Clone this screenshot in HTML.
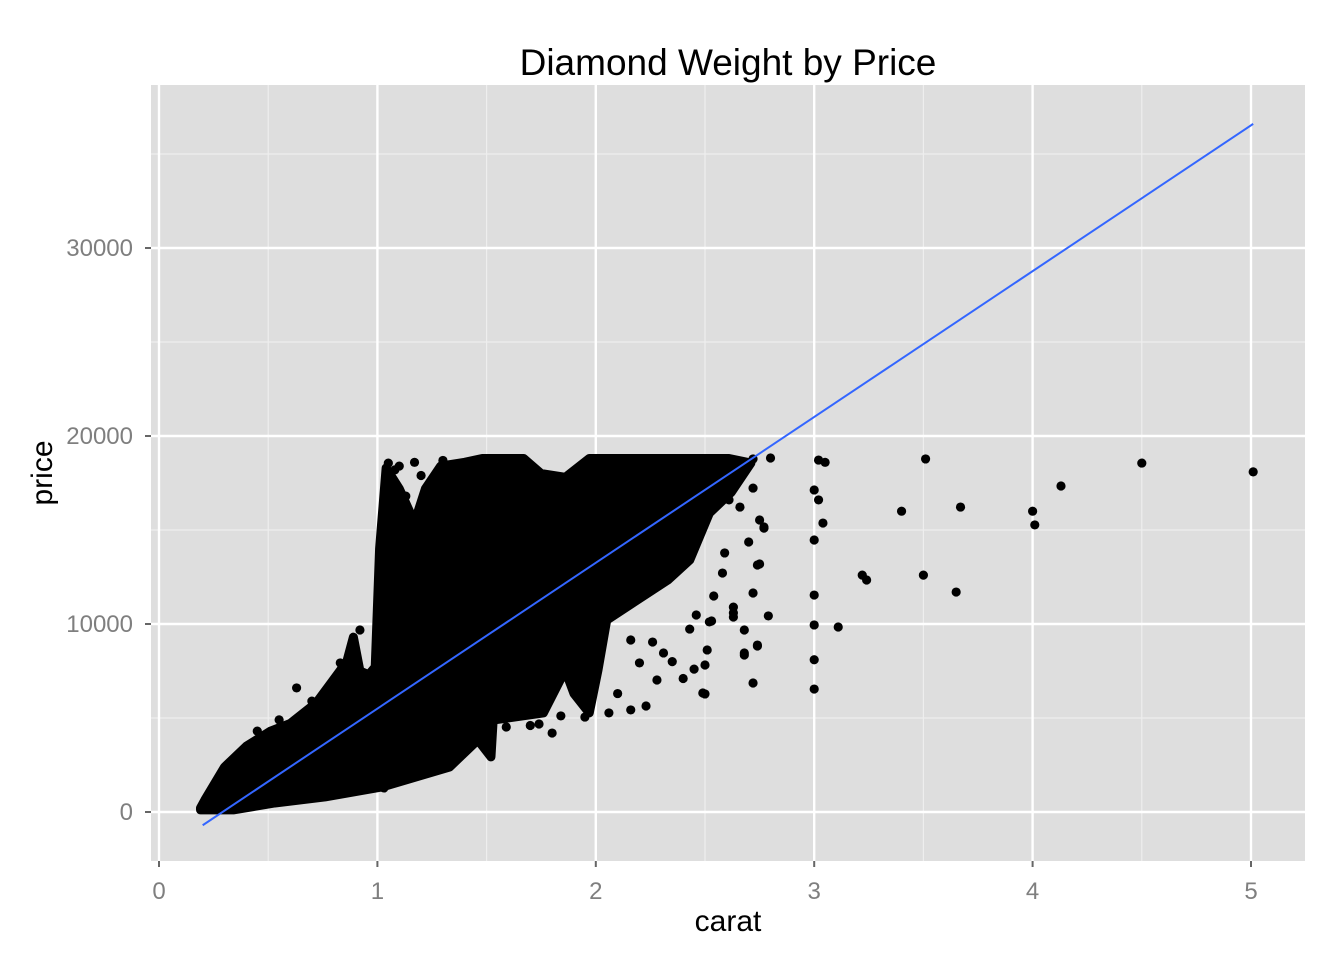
<!DOCTYPE html>
<html><head><meta charset="utf-8"><style>
html,body{margin:0;padding:0;background:#fff;}
svg{display:block;font-family:"Liberation Sans",Arial,sans-serif;}
</style></head><body>
<svg id="chart" width="1344" height="960" viewBox="0 0 1344 960">
<text x="728" y="75" font-size="37" text-anchor="middle" fill="#000">Diamond Weight by Price</text>
<rect x="151" y="85" width="1154" height="776" fill="#dedede"/>
<g id="grid"></g>
<g id="dense"></g>
<g id="pts"></g>
<g id="fit"></g>
<g id="axes"></g>
<text x="728" y="931" font-size="30" text-anchor="middle" fill="#000">carat</text>
<text transform="translate(52,473) rotate(-90)" font-size="30" text-anchor="middle" fill="#000">price</text>
</svg>
<script>
const xTicks=[0,1,2,3,4,5];
const yTicks=[0,10000,20000,30000];
const xMinor=[0.5,1.5,2.5,3.5,4.5];
const yMinor=[5000,15000,25000,35000];
const fitSlope=7756;
const fitIntercept=-2256;
const fitRange=[0.2,5.01];
const denseCarat=[0.19,0.21,0.30,0.40,0.51,0.60,0.72,0.79,0.86,0.89,0.92,0.96,0.99,1.01,1.04,1.10,1.17,1.22,1.29,1.40,1.48,1.67,1.75,1.86,1.97,2.61,2.71,2.62,2.52,2.43,2.33,2.05,2.01,1.97,1.90,1.86,1.76,1.53,1.52,1.46,1.33,1.02,0.76,0.53,0.34,0.19];
const densePrice=[210,640,2390,3500,4300,4700,5800,6900,8000,9300,7500,7300,7710,14000,18300,17200,15400,17200,18400,18600,18800,18800,18000,17800,18800,18800,18560,17000,15900,13400,12340,10210,7550,5270,6300,7550,5270,4890,2930,3830,2390,1330,800,480,110,110];
const ptCarat=[3.02,3.05,3.51,4.50,5.01,4.13,3.67,3.40,4.00,4.01,3.04,3.22,3.24,3.50,3.65,3.11,3.00,3.00,3.00,2.72,2.80,2.72,2.77,2.79,2.72,2.68,2.74,3.00,3.00,3.02,3.00,2.74,2.50,2.51,2.53,2.54,2.70,2.63,2.63,2.50,2.75,2.77,2.75,2.72,2.63,2.68,2.74,2.68,2.49,2.43,2.46,2.52,2.16,2.23,2.06,1.95,1.74,1.84,1.91,2.31,2.28,2.16,2.26,2.20,0.63,0.83,0.92,1.03,1.30,1.51,1.59,2.58,2.59,2.61,2.66,1.05,1.10,1.17,1.30,1.43,1.08,1.20,1.13,1.25,1.38,1.42,1.35,2.40,2.35,2.45,2.10,1.80,1.70,0.45,0.55,0.70];
const ptPrice=[18720,18600,18780,18560,18090,17340,16220,16000,16000,15270,15370,12600,12340,12600,11700,9840,9950,8100,6540,18780,18830,17230,15160,10430,6860,8350,8880,11540,14470,16600,17130,13140,6280,8620,10160,11490,14360,10900,10370,7820,15530,15100,13190,11650,10590,9680,8830,8460,6330,9730,10480,10110,5430,5640,5270,5050,4680,5110,6650,8460,7020,9150,9040,7930,6600,7930,9680,1280,2500,3140,4520,12710,13780,16600,16220,18560,18400,18600,18700,18650,18200,17900,16800,16000,17200,16300,15800,7100,8000,7600,6300,4200,4600,4300,4900,5900];

const NS='http://www.w3.org/2000/svg';
const X0=159,XS=218.4,Y0=812,YS=0.0188;
function sx(c){return X0+c*XS;}
function sy(p){return Y0-p*YS;}
function mk(tag,attrs,parent){const e=document.createElementNS(NS,tag);for(const k in attrs)e.setAttribute(k,attrs[k]);parent.appendChild(e);return e;}
const grid=document.getElementById('grid');
xMinor.forEach(v=>{const l=mk('line',{x1:sx(v),x2:sx(v),y1:85,y2:861,stroke:'#eeeeee','stroke-width':1.2},grid);

});
yMinor.forEach(v=>{const l=mk('line',{x1:151,x2:1305,y1:sy(v),y2:sy(v),stroke:'#eeeeee','stroke-width':1.2},grid);

});
xTicks.forEach(v=>{const l=mk('line',{x1:sx(v),x2:sx(v),y1:85,y2:861,stroke:'#fff','stroke-width':2.4},grid);

});
yTicks.forEach(v=>{const l=mk('line',{x1:151,x2:1305,y1:sy(v),y2:sy(v),stroke:'#fff','stroke-width':2.4},grid);

});
const dense=document.getElementById('dense');
const poly=mk('polygon',{points:denseCarat.map((c,i)=>sx(c)+','+sy(densePrice[i])).join(' '),fill:'#000',stroke:'#000','stroke-width':9,'stroke-linejoin':'round'},dense);


const pts=document.getElementById('pts');
ptCarat.forEach((c,i)=>{const p=mk('circle',{cx:sx(c),cy:sy(ptPrice[i]),r:4.6,fill:'#000'},pts);

});
const fit=document.getElementById('fit');
const fl=mk('line',{x1:sx(fitRange[0]),y1:sy(fitSlope*fitRange[0]+fitIntercept),x2:sx(fitRange[1]),y2:sy(fitSlope*fitRange[1]+fitIntercept),stroke:'#3366ff','stroke-width':2},fit);


const axes=document.getElementById('axes');
xTicks.forEach(v=>{const t=mk('line',{x1:sx(v),x2:sx(v),y1:861,y2:867,stroke:'#666','stroke-width':2},axes);


const tx=mk('text',{x:sx(v),y:899,'font-size':24,'text-anchor':'middle',fill:'#7f7f7f'},axes);tx.textContent=v;

});
yTicks.forEach(v=>{const t=mk('line',{x1:145,x2:151,y1:sy(v),y2:sy(v),stroke:'#666','stroke-width':2},axes);


const tx=mk('text',{x:133,y:sy(v)+8,'font-size':24,'text-anchor':'end',fill:'#7f7f7f'},axes);tx.textContent=v;

});
</script>
</body></html>
